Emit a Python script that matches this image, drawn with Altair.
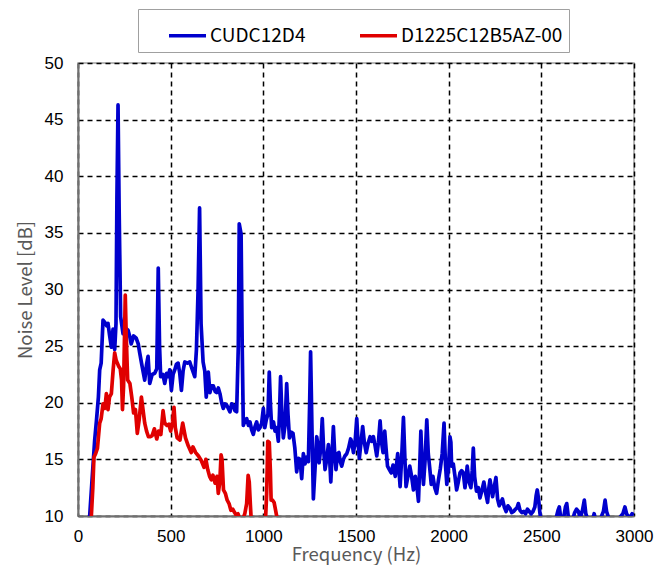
import altair as alt
import pandas as pd

series_names = ["CUDC12D4", "D1225C12B5AZ-00"]
series_colors = ["#0000CD", "#E00000"]

blue_freq = [50, 63, 75, 90, 100, 110, 117, 125, 135, 145, 155, 162, 170, 180, 189, 198, 205, 210, 216, 222,
             230, 243, 255, 270, 280, 287, 300, 314, 325, 333, 345, 360, 370, 378, 387, 400, 414, 425, 433, 440,
             446, 458, 468, 478, 486, 495, 504, 513, 522, 531, 540, 549, 558, 567, 576, 590, 603, 615, 630, 639,
             648, 656, 664, 675, 684, 692, 703, 712, 721, 730, 740, 748, 757, 766, 775, 784, 793, 802, 811, 820,
             829, 838, 847, 856, 865, 870, 880, 886, 892, 901, 910, 920, 928, 937, 946, 955, 964, 973, 982, 991,
             1000, 1008, 1016, 1025, 1032, 1038, 1045, 1055, 1063, 1072, 1081, 1087, 1093, 1100, 1108, 1117, 1126, 1133, 1141, 1150,
             1160, 1170, 1180, 1189, 1198, 1207, 1216, 1225, 1234, 1243, 1250, 1255, 1262, 1270, 1280, 1288, 1295, 1301, 1310, 1318,
             1325, 1333, 1342, 1351, 1358, 1364, 1371, 1378, 1385, 1392, 1400, 1408, 1415, 1423, 1432, 1440, 1450, 1460, 1471, 1478,
             1486, 1495, 1504, 1511, 1518, 1527, 1536, 1545, 1555, 1565, 1576, 1585, 1594, 1603, 1612, 1621, 1630, 1638, 1646, 1655,
             1662, 1670, 1680, 1690, 1700, 1712, 1725, 1732, 1738, 1746, 1756, 1764, 1770, 1780, 1790, 1800, 1810, 1820, 1830, 1837,
             1843, 1850, 1857, 1864, 1873, 1882, 1890, 1898, 1906, 1915, 1925, 1935, 1945, 1955, 1965, 1975, 1983, 1990, 2000, 2007,
             2012, 2016, 2025, 2034, 2043, 2052, 2061, 2070, 2079, 2088, 2095, 2100, 2110, 2120, 2127, 2133, 2140, 2150, 2160, 2169,
             2180, 2190, 2200, 2210, 2217, 2223, 2230, 2237, 2245, 2255, 2264, 2273, 2282, 2290, 2300, 2310, 2320, 2330, 2340, 2350,
             2360, 2368, 2376, 2385, 2395, 2405, 2415, 2425, 2435, 2445, 2455, 2465, 2472, 2478, 2485, 2492, 2500, 2520, 2550, 2575,
             2590, 2597, 2605, 2620, 2630, 2637, 2645, 2660, 2680, 2690, 2700, 2710, 2722, 2732, 2740, 2755, 2775, 2785, 2795, 2820,
             2835, 2844, 2852, 2870, 2890, 2905, 2920, 2940, 2951, 2960, 2975, 2990, 3000]
blue_db = [8, 10.0, 13, 16.7, 18.5, 20.5, 22.9, 23.5, 27.3, 27.1, 26.8, 27.0, 26.0, 24.9, 26.5, 24.7, 27, 38, 46.3, 37,
           27.6, 26.1, 26.6, 26.4, 25.8, 25.2, 25.9, 25.7, 25.2, 24.4, 23.3, 22.0, 23.4, 24.1, 21.7, 22.5, 22.6, 23.0, 31.9, 25,
           22.3, 22.5, 21.7, 22.6, 22.3, 22.9, 21.1, 22.5, 22.9, 23.4, 23.5, 22.6, 21.1, 22.8, 23.6, 23.5, 23.6, 23.0, 22.3, 24.7,
           30, 37.2, 27, 23.6, 22.8, 20.5, 22.7, 20.9, 21.5, 21.5, 21.0, 20.9, 21.3, 20.8, 20.0, 19.5, 19.9, 19.8, 19.5, 19.2,
           19.9, 19.8, 19.3, 19.2, 25, 35.8, 34.9, 25, 18.0, 18.4, 18.6, 18.0, 18.3, 17.6, 17.2, 17.9, 18.3, 17.6, 17.8, 18.2,
           19.5, 17.8, 18.5, 19, 22.7, 20, 17.8, 18.3, 17.5, 17.8, 16.6, 19, 22.3, 19, 16.9, 18, 21.7, 19, 16.9, 17.4,
           17.3, 16, 13.9, 15.1, 15.0, 13.3, 15.5, 14.6, 15.2, 14.8, 20, 24.5, 18, 11.5, 14.5, 17.0, 16.2, 14.7, 16, 18.6,
           16, 14.1, 15, 16.3, 15, 13.0, 15.5, 17.9, 15.5, 14.1, 15.5, 15.6, 14.8, 14.4, 15.0, 15.3, 15.5, 16, 16.8, 16.5,
           15.6, 16.5, 18.6, 16.5, 15.1, 16.5, 17.9, 16.5, 15.6, 16.4, 17.0, 16.6, 17.0, 16.2, 15.3, 16.5, 18.4, 16.5, 15.6, 17.5,
           16, 14.4, 14.1, 13.8, 14.5, 13.5, 15.5, 14, 12.6, 15, 18.7, 15, 12.6, 13.5, 14.4, 13.5, 12.3, 13.5, 12.4, 11.3,
           14, 17.5, 14.5, 12.8, 15, 18.5, 15.5, 14.2, 12.8, 13.5, 12.5, 12.0, 13.2, 14.2, 15.5, 18.2, 14.5, 12.8, 14.5, 17.0,
           16.5, 14.4, 14.6, 13.5, 12.3, 13.0, 13.8, 14.0, 13.8, 12.5, 13.5, 14.4, 13.0, 12.5, 14, 16.0, 13.5, 12.2, 12.5, 11.6,
           12.3, 13.0, 12.0, 11.2, 12.5, 13.2, 12.5, 11.7, 12.5, 13.4, 11.5, 10.9, 11.2, 11.5, 10.8, 10.4, 10.9, 10.7, 10.3, 10.4,
           10.6, 10.7, 11.1, 10.5, 10.3, 10.4, 10.2, 10.6, 10.4, 10.2, 10.4, 10.8, 11.8, 12.3, 11.5, 10.3, 9.5, 9, 9.3, 9.5,
           10.5, 10.8, 9.8, 9.8, 10.8, 11.1, 10, 9.2, 10.3, 10.6, 10.4, 9.8, 10.5, 11.4, 10.2, 9.5, 9.5, 10.2, 9.5, 9.8,
           10.4, 11.4, 10.4, 9.5, 9.4, 9.4, 9.8, 10.2, 10.8, 10.2, 9.8, 10.2, 10.1]

red_freq = [55, 72, 80, 86, 95, 105, 117, 125, 135, 145, 153, 162, 170, 180, 190, 198, 205, 212, 220, 228,
            235, 240, 246, 250, 255, 260, 268, 280, 290, 300, 310, 320, 330, 342, 350, 360, 370, 380, 390, 400,
            412, 425, 435, 447, 459, 468, 480, 490, 500, 510, 518, 525, 535, 550, 565, 580, 595, 611, 620, 635,
            650, 665, 680, 690, 700, 710, 719, 728, 740, 750, 757, 765, 772, 777, 785, 795, 805, 815, 825, 835,
            845, 853, 863, 872, 885, 900, 910, 918, 924, 930, 937, 960, 990, 1010, 1018, 1024, 1032, 1038, 1042, 1050,
            1058, 1065, 1072, 1080]
red_db = [8, 10, 12.5, 15.2, 15.5, 16, 18.2, 18.6, 19.9, 19.5, 20.8, 19.4, 20.5, 20.8, 23.0, 24.4, 23.8, 23.5, 23.2, 23.0,
          22.0, 19.4, 21.5, 25, 29.5, 26, 22, 21.7, 20.5, 19.1, 19.4, 17.3, 18.5, 20.5, 19.5, 18.2, 17.5, 17.0, 17.0, 17.1,
          17.7, 16.8, 17.5, 17.2, 19.3, 18.2, 18.0, 18.1, 17.5, 18.3, 19.6, 17.8, 16.9, 16.7, 18.2, 16.9, 16.2, 15.6, 16.1, 15.6,
          15.3, 14.9, 14.3, 15.0, 14.1, 13.5, 13.2, 13.6, 12.9, 13.5, 12.0, 13, 15.4, 15.0, 12.3, 12.0, 11.4, 11.1, 10.5, 10.6,
          10.3, 10.1, 10.2, 9.8, 9.5, 10.2, 11.1, 13.6, 13.0, 11, 9.0, 8.5, 8.5, 9, 12, 16.6, 16.5, 14, 11.4, 11.4,
          11.2, 10.6, 10, 9]

x_ticks = [0, 500, 1000, 1500, 2000, 2500, 3000]
y_ticks = [10, 15, 20, 25, 30, 35, 40, 45, 50]

df = pd.concat([
    pd.DataFrame({"freq": blue_freq, "db": blue_db, "series": series_names[0]}),
    pd.DataFrame({"freq": red_freq, "db": red_db, "series": series_names[1]}),
])

label_font = "Liberation Sans"
title_font = "Noto Sans CJK JP"

# pad the last legend label on the right so the frame matches the reference box
legend_label_expr = ("datum.index == 1 ? datum.label + "
                     "'\u00a0\u00a0\u00a0\u00a0\u00a0\u00a0\u00a0\u00a0\u00a0' : datum.label")

chart = alt.Chart(df).mark_line(strokeWidth=3.7, clip=True, strokeJoin="round").encode(
    x=alt.X("freq:Q",
            scale=alt.Scale(domain=[0, 3000], nice=False),
            axis=alt.Axis(values=x_ticks, format="d", title="Frequency (Hz)", labelFontSize=17,
                          labelFont=label_font, labelFlush=False, labelOverlap=False,
                          labelColor="#000", ticks=False, labelPadding=12,
                          titleFont=title_font, titleFontSize=18.5, titleColor="#595959",
                          titleFontWeight="normal", titleBaseline="alphabetic", titlePadding=16,
                          domainColor="#707070", domainWidth=2,
                          grid=True, gridColor="#000", gridDash=[5, 4], gridWidth=1.5)),
    y=alt.Y("db:Q",
            scale=alt.Scale(domain=[10, 50], nice=False),
            axis=alt.Axis(values=y_ticks, title="Noise Level [dB]", labelFontSize=17, labelFont=label_font,
                          labelColor="#000", ticks=False, labelPadding=15, labelFlush=False,
                          titleFont=title_font, titleFontSize=18.5, titleColor="#595959",
                          titleFontWeight="normal", titlePadding=9,
                          domainColor="#707070", domainWidth=2,
                          grid=True, gridColor="#000", gridDash=[5, 4], gridWidth=1.5)),
    color=alt.Color("series:N",
                    scale=alt.Scale(domain=series_names, range=series_colors),
                    legend=alt.Legend(orient="none", legendX=60, legendY=-54, direction="horizontal",
                                      title=None, symbolType="stroke", symbolSize=1369,
                                      symbolStrokeWidth=3.7, labelFontSize=19, labelFont=title_font,
                                      labelColor="#000", labelOffset=2, columnPadding=29, labelLimit=400,
                                      padding=6, symbolOffset=23, strokeColor="#a0a0a0",
                                      fillColor="#ffffff", labelExpr=legend_label_expr)),
    order=alt.Order("freq:Q"),
).properties(
    width=556, height=453,
    autosize=alt.AutoSizeParams(type="none"),
    padding={"left": 70, "top": 55, "right": 21, "bottom": 49},
).configure_view(stroke="#a0a0a0", strokeWidth=1.5)

chart.save("out.html", embed_options={"renderer": "svg", "actions": False})
